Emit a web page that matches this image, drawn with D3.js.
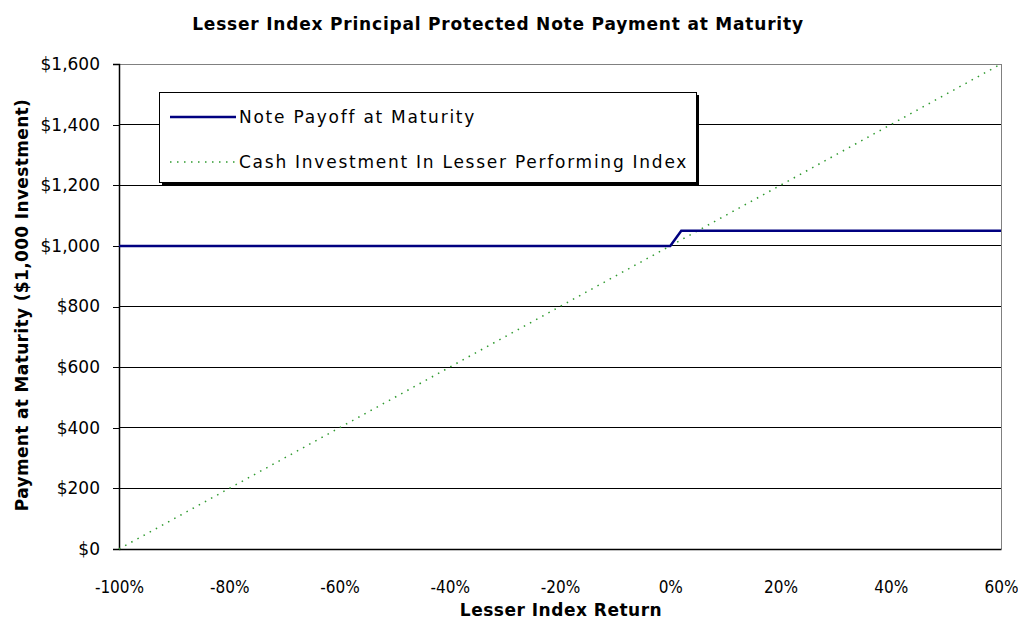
<!DOCTYPE html>
<html><head><meta charset="utf-8">
<script src="https://cdn.jsdelivr.net/npm/d3@7"></script>
<style>body{margin:0;background:#fff;} svg{display:block;} text{font-family:"DejaVu Sans",Verdana,sans-serif;}</style>
</head><body>
<svg id="c" width="1018" height="621"></svg>
<script>
const title = "Lesser Index Principal Protected Note Payment at Maturity";
const xTitle = "Lesser Index Return";
const yTitle = "Payment at Maturity ($1,000 Investment)";
const xTicks = [-100, -80, -60, -40, -20, 0, 20, 40, 60];
const yTicks = [0, 200, 400, 600, 800, 1000, 1200, 1400, 1600];
const noteX = [-100, 0, 2, 60];
const noteY = [1000, 1000, 1050, 1050];
const cashX = [-100, 60];
const cashY = [0, 1600];
const seriesNames = ["Note Payoff at Maturity", "Cash Investment In Lesser Performing Index"];

const svg = d3.select("#c");
const L = 119, R = 1001, T = 64, B = 549;
const x = d3.scaleLinear().domain([-100, 60]).range([L, R]);
const y = d3.scaleLinear().domain([0, 1600]).range([B, T]);

// gridlines
svg.append("g").selectAll("line").data(yTicks.filter(d => d < 1600)).join("line")
  .attr("x1", L).attr("x2", R).attr("y1", d => y(d)).attr("y2", d => y(d))
  .attr("stroke", "#000").attr("stroke-width", 1).attr("shape-rendering", "crispEdges");
// plot border top/right gray
svg.append("path").attr("d", `M${L},${T}H${R}V${B}`).attr("fill", "none")
  .attr("stroke", "#808080").attr("stroke-width", 1).attr("shape-rendering", "crispEdges");

const tickFont = "'DejaVu Sans',sans-serif";
// y axis
const yAxis = d3.axisLeft(y).tickValues(yTicks).tickSize(6).tickPadding(13)
  .tickFormat(d => "$" + d3.format(",")(d));
const gy = svg.append("g").attr("transform", `translate(${L},0)`).call(yAxis);
gy.attr("font-size", null).attr("font-family", null);
gy.select(".domain").attr("stroke", "#000").attr("stroke-width", 1.5);
gy.selectAll(".tick line").attr("stroke", "#000").attr("shape-rendering", "crispEdges");
gy.selectAll(".tick text").style("font-size", "17px").attr("fill", "#000")
  .style("font-family", tickFont);

// x axis
const xAxis = d3.axisBottom(x).tickValues(xTicks).tickSize(0).tickPadding(32)
  .tickFormat(d => d + "%");
const gx = svg.append("g").attr("transform", `translate(0,${B})`).call(xAxis);
gx.attr("font-size", null).attr("font-family", null);
gx.select(".domain").attr("stroke", "#000").attr("stroke-width", 1.5);
gx.selectAll(".tick text").style("font-size", "17px").attr("fill", "#000")
  .style("font-family", "'DejaVu Sans Condensed','DejaVu Sans',sans-serif");

// series
const line = d3.line().x(d => x(d[0])).y(d => y(d[1]));
svg.append("path").datum(cashX.map((v, i) => [v, cashY[i]])).attr("d", line)
  .attr("fill", "none").attr("stroke", "#2f9a2f").attr("stroke-width", 1.5)
  .attr("stroke-dasharray", "1.5,5.5");
svg.append("path").datum(noteX.map((v, i) => [v, noteY[i]])).attr("d", line)
  .attr("fill", "none").attr("stroke", "#000080").attr("stroke-width", 2.5);

// legend
const lg = svg.append("g");
lg.append("rect").attr("x", 162).attr("y", 95).attr("width", 537).attr("height", 90).attr("fill", "#000");
lg.append("rect").attr("x", 159.5).attr("y", 92.5).attr("width", 537).attr("height", 90)
  .attr("fill", "#fff").attr("stroke", "#000").attr("stroke-width", 1);
lg.append("line").attr("x1", 170).attr("x2", 236).attr("y1", 117).attr("y2", 117)
  .attr("stroke", "#000080").attr("stroke-width", 2.5);
lg.append("line").attr("x1", 170).attr("x2", 236).attr("y1", 162).attr("y2", 162)
  .attr("stroke", "#2f9a2f").attr("stroke-width", 1.5).attr("stroke-dasharray", "1.5,5.5");
lg.selectAll("text.lt").data(seriesNames).join("text").attr("class", "lt")
  .attr("x", 239).attr("y", (d, i) => 117 + i * 45).attr("dy", "0.35em")
  .style("font-size", "17px").attr("fill", "#000").attr("letter-spacing", 1.75).text(d => d);

// titles
const titleFont = "'DejaVu Sans',sans-serif";
svg.append("text").attr("x", 498).attr("y", 30).attr("text-anchor", "middle")
  .style("font-size", "17px").attr("font-weight", "bold").attr("letter-spacing", 0.8)
  .style("font-family", titleFont).text(title);
svg.append("text").attr("x", 561).attr("y", 616).attr("text-anchor", "middle")
  .style("font-size", "17px").attr("font-weight", "bold").attr("letter-spacing", 0.5)
  .style("font-family", titleFont).text(xTitle);
svg.append("text").attr("transform", "translate(28,305) rotate(-90)").attr("text-anchor", "middle")
  .style("font-size", "17px").attr("font-weight", "bold").attr("letter-spacing", 0.35)
  .style("font-family", titleFont).text(yTitle);
</script>
</body></html>
